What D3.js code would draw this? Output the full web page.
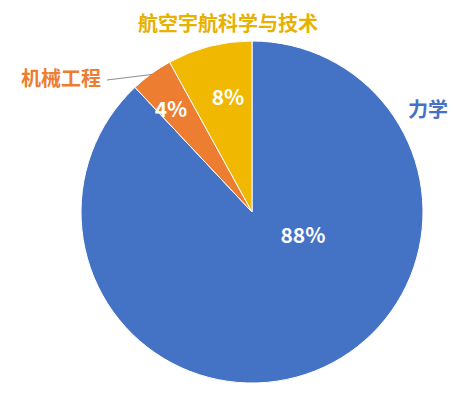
<!DOCTYPE html>
<html>
<head>
<meta charset="utf-8">
<script src="https://cdn.jsdelivr.net/npm/d3@7"></script>
<style>
    body { margin: 0; background: #fff; }
    text { font-family: "Noto Sans CJK SC", "Noto Sans", sans-serif; font-weight: bold; }
</style>
</head>
<body>
<svg id="chart"></svg>
<script>
// data, in draw order clockwise from 12 o'clock
const categories = ["力学", "机械工程", "航空宇航科学与技术"];
const shares = [88, 4, 8];
const colors = ["#4472C4", "#ED7D31", "#F0B800"];
const labelColors = ["#4472C4", "#ED7D31", "#E8B000"];

const width = 472, height = 407;
const cx = 252, cy = 212, radius = 171;

// where the percent text and category text sit (offsets from the centre)
const pctOffset = [[51, 22], [-81, -104], [-24, -116]];
const nameOffset = [[176, -104], [-191, -135], [-24, -190]];

const svg = d3.select("#chart")
    .attr("width", width)
    .attr("height", height);

const g = svg.append("g")
    .attr("transform", `translate(${cx}, ${cy})`);

const pie = d3.pie().sort(null).value(d => d);
const arcs = pie(shares);

const arc = d3.arc().innerRadius(0).outerRadius(radius);

g.selectAll(".slice")
    .data(arcs)
    .enter()
    .append("path")
    .attr("class", "slice")
    .attr("d", arc)
    .attr("fill", (d, i) => colors[i])
    .attr("stroke", "#fff")
    .attr("stroke-width", 1);

g.selectAll(".pct")
    .data(arcs)
    .enter()
    .append("text")
    .attr("class", "pct")
    .attr("x", (d, i) => pctOffset[i][0])
    .attr("y", (d, i) => pctOffset[i][1])
    .attr("text-anchor", "middle")
    .attr("dominant-baseline", "central")
    .style("fill", "#fff")
    .style("font-size", "21px")
    .text(d => `${d.data}%`);

// leader line for the small slice, ends on its outer edge
const small = arcs[1];
const edgeAngle = (small.startAngle + small.endAngle) / 2;
g.append("line")
    .attr("x1", nameOffset[1][0] + 46)
    .attr("y1", nameOffset[1][1] + 3)
    .attr("x2", Math.sin(edgeAngle) * (radius - 1))
    .attr("y2", -Math.cos(edgeAngle) * (radius - 1))
    .attr("stroke", "#8c8c8c")
    .attr("stroke-width", 1);

g.selectAll(".name")
    .data(arcs)
    .enter()
    .append("text")
    .attr("class", "name")
    .attr("x", (d, i) => nameOffset[i][0])
    .attr("y", (d, i) => nameOffset[i][1])
    .attr("text-anchor", "middle")
    .attr("dominant-baseline", "central")
    .style("fill", (d, i) => labelColors[i])
    .style("font-size", "20px")
    .text((d, i) => categories[i]);
</script>
</body>
</html>
